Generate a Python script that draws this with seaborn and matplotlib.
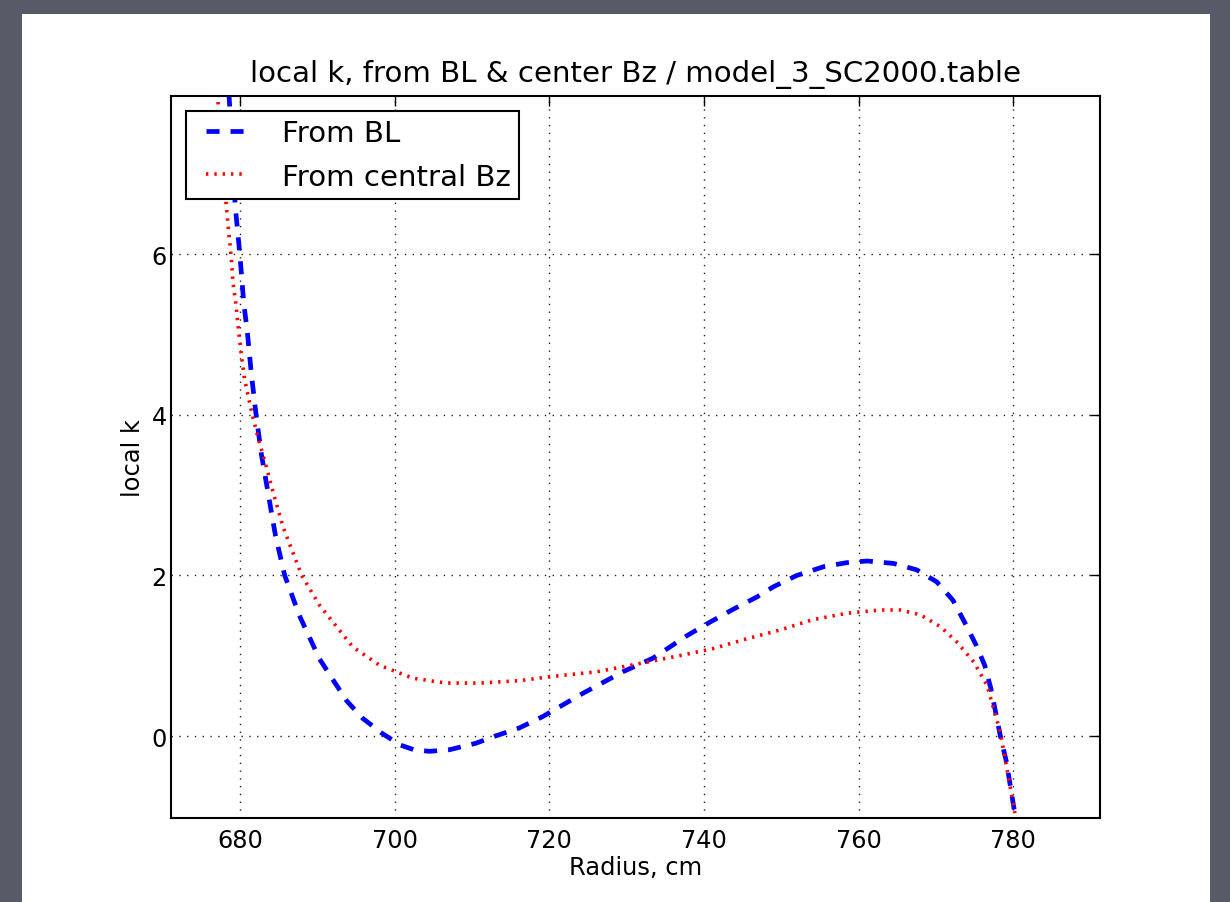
import matplotlib
matplotlib.use("Agg")
import matplotlib.pyplot as plt
from matplotlib.patches import Rectangle
from matplotlib.lines import Line2D
from matplotlib.legend_handler import HandlerLine2D
import pandas as pd
import seaborn as sns

# ---- data -------------------------------------------------------------
radius_bl = [678.4, 678.9, 679.4, 680.0, 680.5, 681.0, 681.5, 682.1, 682.8,
             683.7, 684.6, 685.8, 687.7, 690.3, 693.8, 695.9, 698.3, 700.7,
             702.5, 704.5, 707.1, 710.5, 713.0, 716.1, 719.1, 724.3, 729.5,
             733.4, 737.8, 740.8, 743.8, 746.8, 749.0, 752.0, 755.5, 758.5,
             761.1, 764.5, 767.5, 770.1, 772.2, 773.9, 775.2, 776.3, 777.1,
             778.3, 779.1, 780.2]
k_bl = [8.3, 7.5, 6.6, 6.0, 5.4, 5.0, 4.5, 4.0, 3.5,
        3.0, 2.5, 2.0, 1.5, 0.96, 0.44, 0.22, 0.04, -0.11,
        -0.17, -0.19, -0.17, -0.09, 0.0, 0.10, 0.24, 0.53, 0.80,
        0.97, 1.25, 1.42, 1.58, 1.73, 1.86, 2.0, 2.11, 2.16,
        2.18, 2.15, 2.07, 1.92, 1.69, 1.38, 1.13, 0.88, 0.59,
        0.01, -0.32, -0.97]

radius_bz = [676.9, 677.2, 677.7, 678.2, 678.6, 678.9, 679.1, 679.5, 679.8,
             680.2, 680.6, 681.6, 682.4, 683.3, 684.4, 685.6, 686.8, 688.0,
             690.3, 694.6, 698.1, 702.4, 706.7, 711.0, 716.2, 720.1, 726.1,
             732.6, 737.3, 741.2, 745.5, 749.8, 754.1, 758.5, 762.8, 765.4,
             768.0, 770.6, 772.7, 774.9, 776.6, 778.3, 779.1, 780.2]
k_bz = [8.1, 7.87, 7.2, 6.65, 6.24, 5.95, 5.66, 5.37, 5.08,
        4.74, 4.45, 4.0, 3.7, 3.4, 3.0, 2.6, 2.3, 2.0,
        1.63, 1.11, 0.88, 0.72, 0.66, 0.66, 0.69, 0.74, 0.80,
        0.92, 1.01, 1.09, 1.21, 1.32, 1.45, 1.53, 1.57, 1.57,
        1.51, 1.36, 1.17, 0.92, 0.63, 0.05, -0.37, -0.96]

x_ticks = [680, 700, 720, 740, 760, 780]
y_ticks = [0, 2, 4, 6]
series_labels = ["From BL", "From central Bz"]
title_text = "local k, from BL & center Bz / model_3_SC2000.table"
x_label = "Radius, cm"
y_label = "local k"

# ---- style ------------------------------------------------------------
sns.set_theme(style="white")
plt.rcParams["font.family"] = ["DejaVu Sans"]
plt.rcParams["lines.scale_dashes"] = False
plt.rcParams["text.color"] = "black"
plt.rcParams["axes.labelcolor"] = "black"

W, H = 1230, 903
fig = plt.figure(figsize=(W / 100, H / 100), dpi=100, facecolor="#585b67")
fig.patches.append(Rectangle((22 / W, 0), (1210 - 22) / W, (H - 15) / H,
                             transform=fig.transFigure, facecolor="white",
                             edgecolor="none", zorder=-5))

ax = fig.add_axes([171 / W, (H - 819) / H, (1100 - 171) / W, (819 - 97) / H])
ax.set_facecolor("white")

df_bl = pd.DataFrame({"radius": radius_bl, "k": k_bl})
df_bz = pd.DataFrame({"radius": radius_bz, "k": k_bz})

sns.lineplot(data=df_bl, x="radius", y="k", ax=ax, color="blue", lw=3.4,
             estimator=None, sort=False, label=series_labels[0])
ax.lines[-1].set_dashes([9.4, 7.9])
sns.lineplot(data=df_bz, x="radius", y="k", ax=ax, color="red", lw=2.6,
             estimator=None, sort=False, label=series_labels[1])
ax.lines[-1].set_dashes([1.7, 4.3])

ax.set_xlim(671.1, 791.2)
ax.set_ylim(-1.02, 7.97)
ax.set_xticks(x_ticks)
ax.set_yticks(y_ticks)

ax.grid(True, color="#222222", linestyle=(0, (1.0, 4.6)), linewidth=1.0)
for s in ax.spines.values():
    s.set_color("black")
    s.set_linewidth(1.5)
    s.set_visible(True)

ax.tick_params(direction="in", length=7, width=1, top=True, right=True,
               labelsize=17.3, colors="black")
ax.tick_params(axis="x", pad=7)
ax.tick_params(axis="y", pad=3)

ax.set_title(title_text, fontsize=21.1, pad=11, color="black")
ax.set_xlabel(x_label, fontsize=17.4, color="black")
ax.set_ylabel(y_label, fontsize=17.4, color="black")
ax.xaxis.set_label_coords(0.5, -0.051)
ax.yaxis.set_label_coords(-0.028, 0.5)

leg = ax.legend(loc="upper left", bbox_to_anchor=(15 / 929, 1 - 15 / 722),
                borderaxespad=0, fontsize=21.1, frameon=True, fancybox=False,
                shadow=False, handlelength=1.7, handletextpad=1.28,
                borderpad=0.28, labelspacing=0.53, labelcolor="black",
                handler_map={Line2D: HandlerLine2D(xpad=0.41)})
fr = leg.get_frame()
fr.set_edgecolor("black")
fr.set_linewidth(1.5)
fr.set_facecolor("white")
fr.set_alpha(1)

fig.savefig("out.png", dpi=100, facecolor=fig.get_facecolor())
